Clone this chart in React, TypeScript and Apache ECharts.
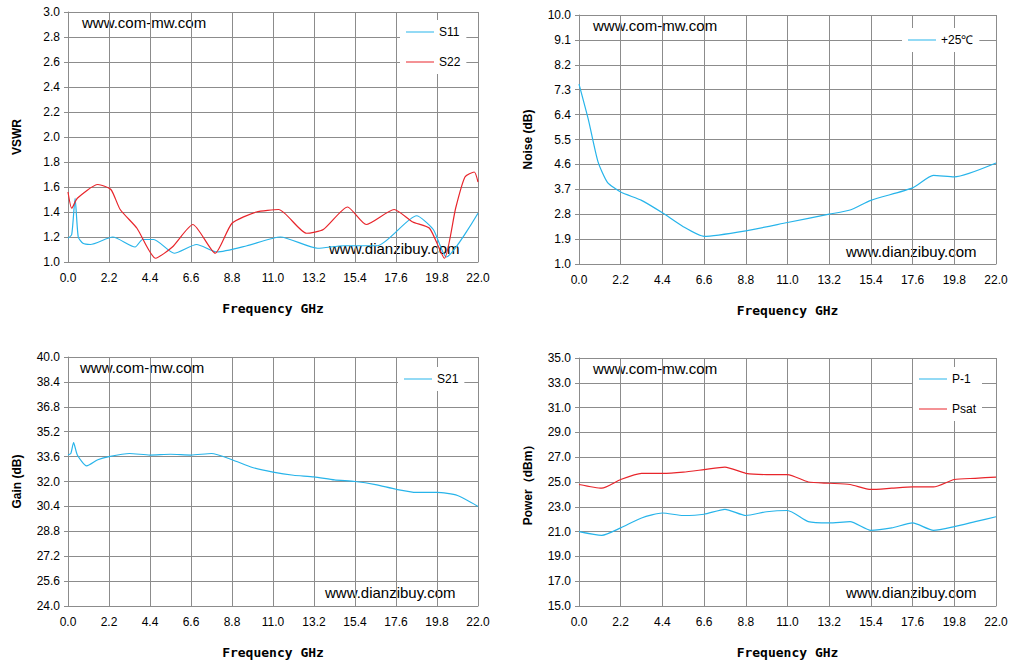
import { useRef, useEffect } from "react";
import * as echarts from "echarts";

const S11_FREQ = [0, 0.2, 0.38, 0.55, 0.8, 1.2, 2.4, 3.6, 4.0, 4.6, 5.7, 6.9, 8.0, 9.6, 11.4, 13.4, 14.8, 16.6, 18.7, 19.6, 20.3, 22];
const S11 = [1.19, 1.22, 1.51, 1.2, 1.15, 1.14, 1.2, 1.12, 1.18, 1.18, 1.07, 1.14, 1.08, 1.13, 1.2, 1.11, 1.13, 1.13, 1.37, 1.26, 1.04, 1.39];
const S22_FREQ = [0, 0.2, 0.5, 1.6, 2.3, 2.8, 3.7, 4.7, 5.6, 6.7, 7.9, 8.8, 10.1, 11.3, 12.8, 13.7, 15.0, 16.0, 17.5, 18.5, 19.4, 20.2, 20.8, 21.3, 21.8, 22];
const S22 = [1.56, 1.43, 1.51, 1.62, 1.58, 1.42, 1.27, 1.03, 1.12, 1.3, 1.07, 1.31, 1.4, 1.42, 1.23, 1.26, 1.44, 1.3, 1.42, 1.32, 1.27, 1.03, 1.43, 1.68, 1.72, 1.64];
const NF_FREQ = [0, 0.5, 1.0, 1.5, 2.2, 3.3, 4.4, 5.5, 6.6, 8.8, 11, 13.2, 14.3, 15.4, 17.6, 18.7, 19.8, 22];
const NF = [7.5, 6.2, 4.7, 3.95, 3.6, 3.3, 2.85, 2.35, 2.0, 2.2, 2.5, 2.8, 2.95, 3.3, 3.75, 4.2, 4.15, 4.65];
const GAIN_FREQ = [0, 0.15, 0.3, 0.5, 1.0, 1.6, 2.2, 3.3, 4.4, 5.5, 6.6, 7.7, 8.8, 9.9, 11, 12.1, 13.2, 14.3, 15.4, 16.5, 17.6, 18.7, 19.8, 20.9, 22];
const GAIN = [33.7, 33.8, 34.5, 33.7, 33.0, 33.4, 33.6, 33.8, 33.7, 33.75, 33.7, 33.8, 33.4, 32.9, 32.6, 32.4, 32.3, 32.1, 32.0, 31.8, 31.5, 31.3, 31.3, 31.1, 30.4];
const PWR_FREQ = [0, 1.2, 2.2, 3.3, 4.4, 5.5, 6.6, 7.7, 8.8, 9.9, 11, 12.1, 13.2, 14.3, 15.4, 16.5, 17.6, 18.7, 19.8, 20.9, 22];
const P1 = [21.0, 20.7, 21.3, 22.1, 22.5, 22.3, 22.4, 22.8, 22.3, 22.6, 22.7, 21.8, 21.7, 21.8, 21.1, 21.3, 21.7, 21.1, 21.4, 21.8, 22.2];
const PSAT = [24.8, 24.5, 25.2, 25.7, 25.7, 25.8, 26.0, 26.2, 25.7, 25.6, 25.6, 25.0, 24.9, 24.8, 24.4, 24.5, 24.6, 24.6, 25.2, 25.3, 25.4];

const BLUE = "#27b4ea";
const RED = "#e8252b";
const FONT = "Arial, 'Liberation Sans', sans-serif";

const pairs = (xs: number[], ys: number[], off = 0) => xs.map((x, i) => [x, ys[i] - off]);

export default function App() {
  const ref = useRef<HTMLDivElement>(null);
  useEffect(() => {
    if (!ref.current) return;
    const chart = echarts.init(ref.current, null, { renderer: "svg" });
    const grids = [
      { left: 68, top: 12, width: 410, height: 250 },
      { left: 579, top: 15, width: 417, height: 249 },
      { left: 68, top: 357, width: 410, height: 249 },
      { left: 579, top: 358, width: 417, height: 248 },
    ];
    const split = { show: true, lineStyle: { color: "#8c8c8c", width: 1 } };
    const xAxis = grids.map((_, i) => ({
      type: "value", gridIndex: i, min: 0, max: 22, interval: 2.2,
      name: "Frequency GHz", nameLocation: "middle", nameGap: 40,
      nameTextStyle: { fontFamily: "'DejaVu Sans Mono', monospace", fontWeight: "bold", fontSize: 13, color: "#000" },
      axisLine: { lineStyle: { color: "#8c8c8c" } }, axisTick: { show: false },
      axisLabel: { color: "#000", fontFamily: FONT, fontSize: 12, formatter: (v: number) => v.toFixed(1), margin: 10 },
      splitLine: split,
    }));
    const yDefs = [
      { name: "VSWR", min: 1, max: 3, interval: 0.2, fmt: (v: number) => v.toFixed(1) },
      { name: "Noise (dB)", min: 0, max: 9, interval: 0.9, fmt: (v: number) => (v + 1).toFixed(1) },
      { name: "Gain (dB)", min: 24, max: 40, interval: 1.6, fmt: (v: number) => v.toFixed(1) },
      { name: "Power\uff08dBm\uff09", min: 15, max: 35, interval: 2, fmt: (v: number) => v.toFixed(1) },
    ];
    const yAxis = yDefs.map((d, i) => ({
      type: "value", gridIndex: i, min: d.min, max: d.max, interval: d.interval,
      name: d.name, nameLocation: "middle", nameGap: 45,
      nameTextStyle: { fontFamily: FONT, fontWeight: "bold", fontSize: 12, color: "#000" },
      axisLine: { show: true, lineStyle: { color: "#8c8c8c" } },
      axisTick: { show: true, length: 4, lineStyle: { color: "#8c8c8c" } },
      axisLabel: { color: "#000", fontFamily: FONT, fontSize: 12, formatter: d.fmt, margin: 8 },
      splitLine: split,
    }));
    const line = (name: string, idx: number, data: number[][], color: string) => ({
      name, type: "line", xAxisIndex: idx, yAxisIndex: idx, data, showSymbol: false,
      smooth: 0.2, lineStyle: { color, width: 1.2 }, itemStyle: { color },
    });
    const legend = (left: number, top: number, names: string[]) => ({
      left, top, orient: "vertical", data: names, icon: "rect", itemWidth: 28, itemHeight: 1,
      itemGap: 18, backgroundColor: "#fff", padding: [6, 6, 6, 6],
      textStyle: { color: "#000", fontFamily: FONT, fontSize: 12 },
    });
    const wm = (x: number, y: number, t: string) => ({
      type: "text", x, y, style: { text: t, fill: "#000", font: `15px ${FONT}` },
    });
    chart.setOption({
      animation: false,
      grid: grids,
      xAxis, yAxis,
      legend: [
        legend(400, 20, ["S11", "S22"]),
        legend(902, 28, ["+25\u2103"]),
        legend(398, 367, ["S21"]),
        legend(913, 367, ["P-1", "Psat"]),
      ],
      graphic: [
        wm(82, 15, "www.com-mw.com"),
        wm(329, 241, "www.dianzibuy.com"),
        wm(593, 18, "www.com-mw.com"),
        wm(846, 244, "www.dianzibuy.com"),
        wm(80, 360, "www.com-mw.com"),
        wm(325, 585, "www.dianzibuy.com"),
        wm(593, 361, "www.com-mw.com"),
        wm(846, 585, "www.dianzibuy.com"),
      ],
      series: [
        line("S11", 0, pairs(S11_FREQ, S11), BLUE),
        line("S22", 0, pairs(S22_FREQ, S22), RED),
        line("+25\u2103", 1, pairs(NF_FREQ, NF, 1), BLUE),
        line("S21", 2, pairs(GAIN_FREQ, GAIN), BLUE),
        line("P-1", 3, pairs(PWR_FREQ, P1), BLUE),
        line("Psat", 3, pairs(PWR_FREQ, PSAT), RED),
      ],
    });
    return () => chart.dispose();
  }, []);
  return <div ref={ref} style={{ position: "fixed", left: 0, top: 0, width: 1015, height: 672, background: "#fff" }} />;
}
